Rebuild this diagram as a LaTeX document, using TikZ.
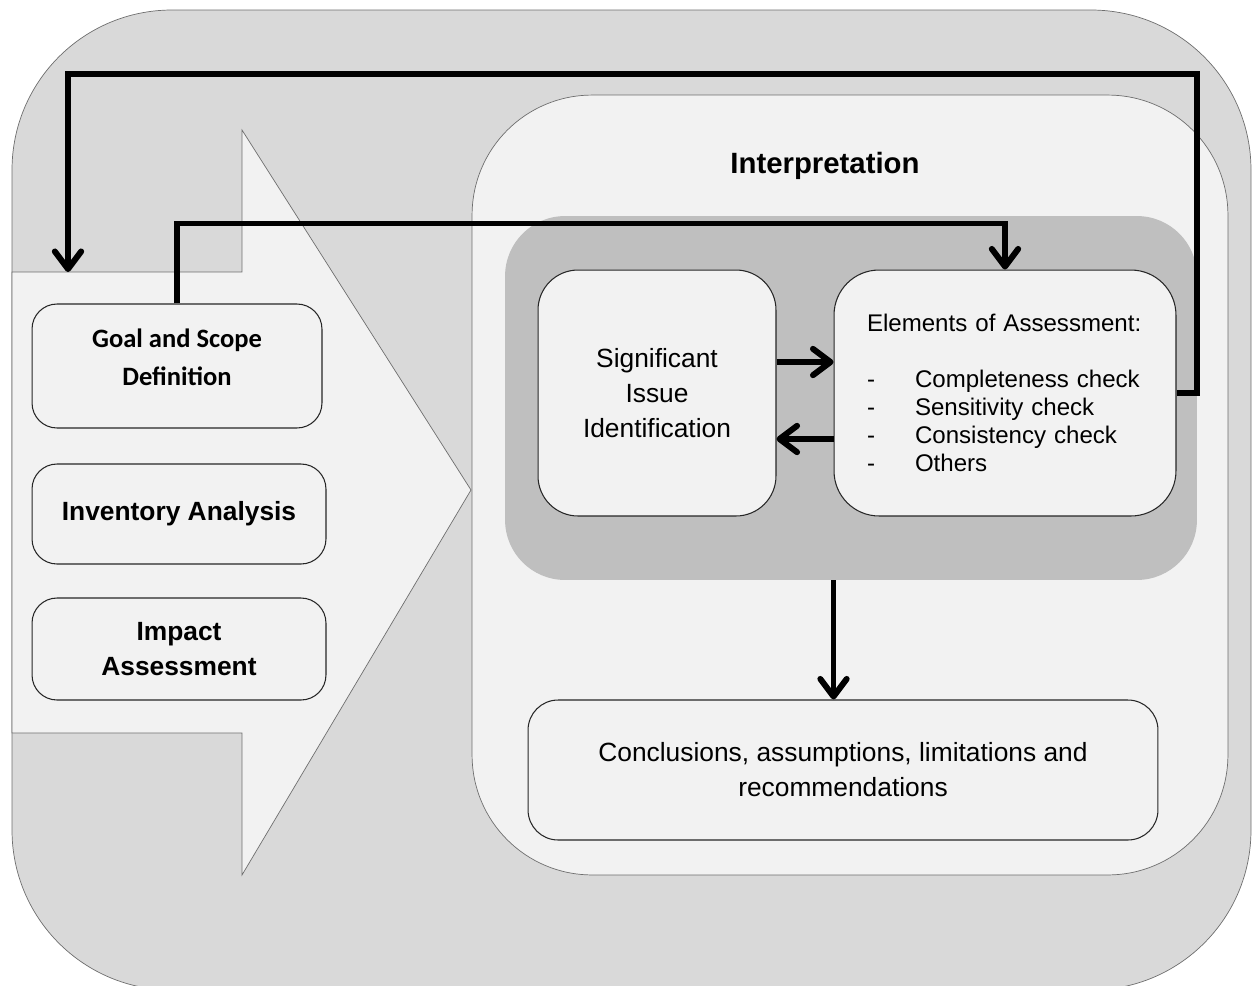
\documentclass[tikz,border=0pt]{standalone}
\usepackage{fontspec}
\setmainfont{Liberation Sans}
\newfontfamily\calibri{Carlito}
\usepackage{xcolor}
\usetikzlibrary{arrows.meta,positioning}

\definecolor{framegray}{HTML}{D9D9D9}
\definecolor{boxgray}{HTML}{F2F2F2}
\definecolor{coregray}{HTML}{BFBFBF}
\definecolor{edgegray}{HTML}{6E6E6E}

\newcommand{\assessitem}[1]{\makebox[0.96cm][l]{-}#1}

\tikzset{
  phase/.style = {draw=black!85, fill=boxgray, line width=0.6pt, rounded corners=0.5cm,
    inner sep=0pt, align=center, font=\fontsize{15}{19.5}\selectfont\bfseries},
  stepbox/.style = {draw=black!85, fill=boxgray, line width=0.6pt, rounded corners=0.8cm,
    inner sep=0pt, font=\fontsize{15}{19.9}\selectfont},
  flow/.style = {line width=3.4pt, line join=miter,
    -{Straight Barb[length=10pt,width=15pt,round]}}
}

\begin{document}
\begin{tikzpicture}[x=0.02cm, y=-0.02cm]

\useasboundingbox (0,0) rectangle (1259,985);

% background and phase arrow
\draw[edgegray, fill=framegray, rounded corners=3.2cm] (12,10) rectangle (1251,990);
\draw[edgegray, fill=boxgray] (12,272) -- (242,272) -- (242,130) -- (471,490)
  -- (242,875) -- (242,733) -- (12,733) -- cycle;

% interpretation
\node[draw=edgegray, fill=boxgray, rounded corners=2.4cm, inner sep=0pt,
  minimum width=15.12cm, minimum height=15.6cm] (interp) at (850,485) {};
\node[font=\fontsize{16.7}{20}\selectfont\bfseries] (title) at (825,166) {Interpretation};
\node[fill=coregray, rounded corners=1.2cm, inner sep=0pt,
  minimum width=13.84cm, minimum height=7.28cm] (core) at (851,398) {};

\node[stepbox, align=center, minimum width=4.76cm, minimum height=4.92cm]
  (sig) at (657,393) {Significant\\Issue\\Identification};

\node[stepbox, rounded corners=0.9cm, minimum width=6.84cm, minimum height=4.92cm,
  text width=5.52cm, align=left, font=\fontsize{13.7}{15.9}\selectfont]
  (elem) at (1005,393) {Elements of Assessment:\\[15.9pt]
  \assessitem{Completeness check}\\
  \assessitem{Sensitivity check}\\
  \assessitem{Consistency check}\\
  \assessitem{Others}};

\node[stepbox, rounded corners=0.6cm, align=center, minimum width=12.6cm, minimum height=2.8cm]
  (concl) at (843,770) {Conclusions, assumptions, limitations and\\recommendations};

% phases
\node[phase, font=\calibri\fontsize{15.1}{21.6}\selectfont\bfseries, text depth=0.36cm,
  minimum width=5.8cm, minimum height=2.48cm] (goal) at (177,366) {Goal and Scope\\Definition};
\node[phase, minimum width=5.88cm, minimum height=2cm] (inv) at (179,514) {Inventory Analysis};
\node[phase, minimum width=5.88cm, minimum height=2.04cm] (impact) at (179,649) {Impact\\Assessment};

% connectors
\coordinate (goalin) at (68,272);
\coordinate (loop) at (1197,74);

\draw[flow] (goal.north) -- ++(0,-80) -| (elem.north);
\draw[flow] (elem.east) -| (loop) -| (goalin);
\draw[flow] ([yshift=0.62cm]sig.east) -- ([yshift=0.62cm]elem.west);
\draw[flow] ([yshift=-0.92cm]elem.west) -- ([yshift=-0.92cm]sig.east);
\draw[flow] (elem.west |- core.south) -- (elem.west |- concl.north);

\end{tikzpicture}
\end{document}
